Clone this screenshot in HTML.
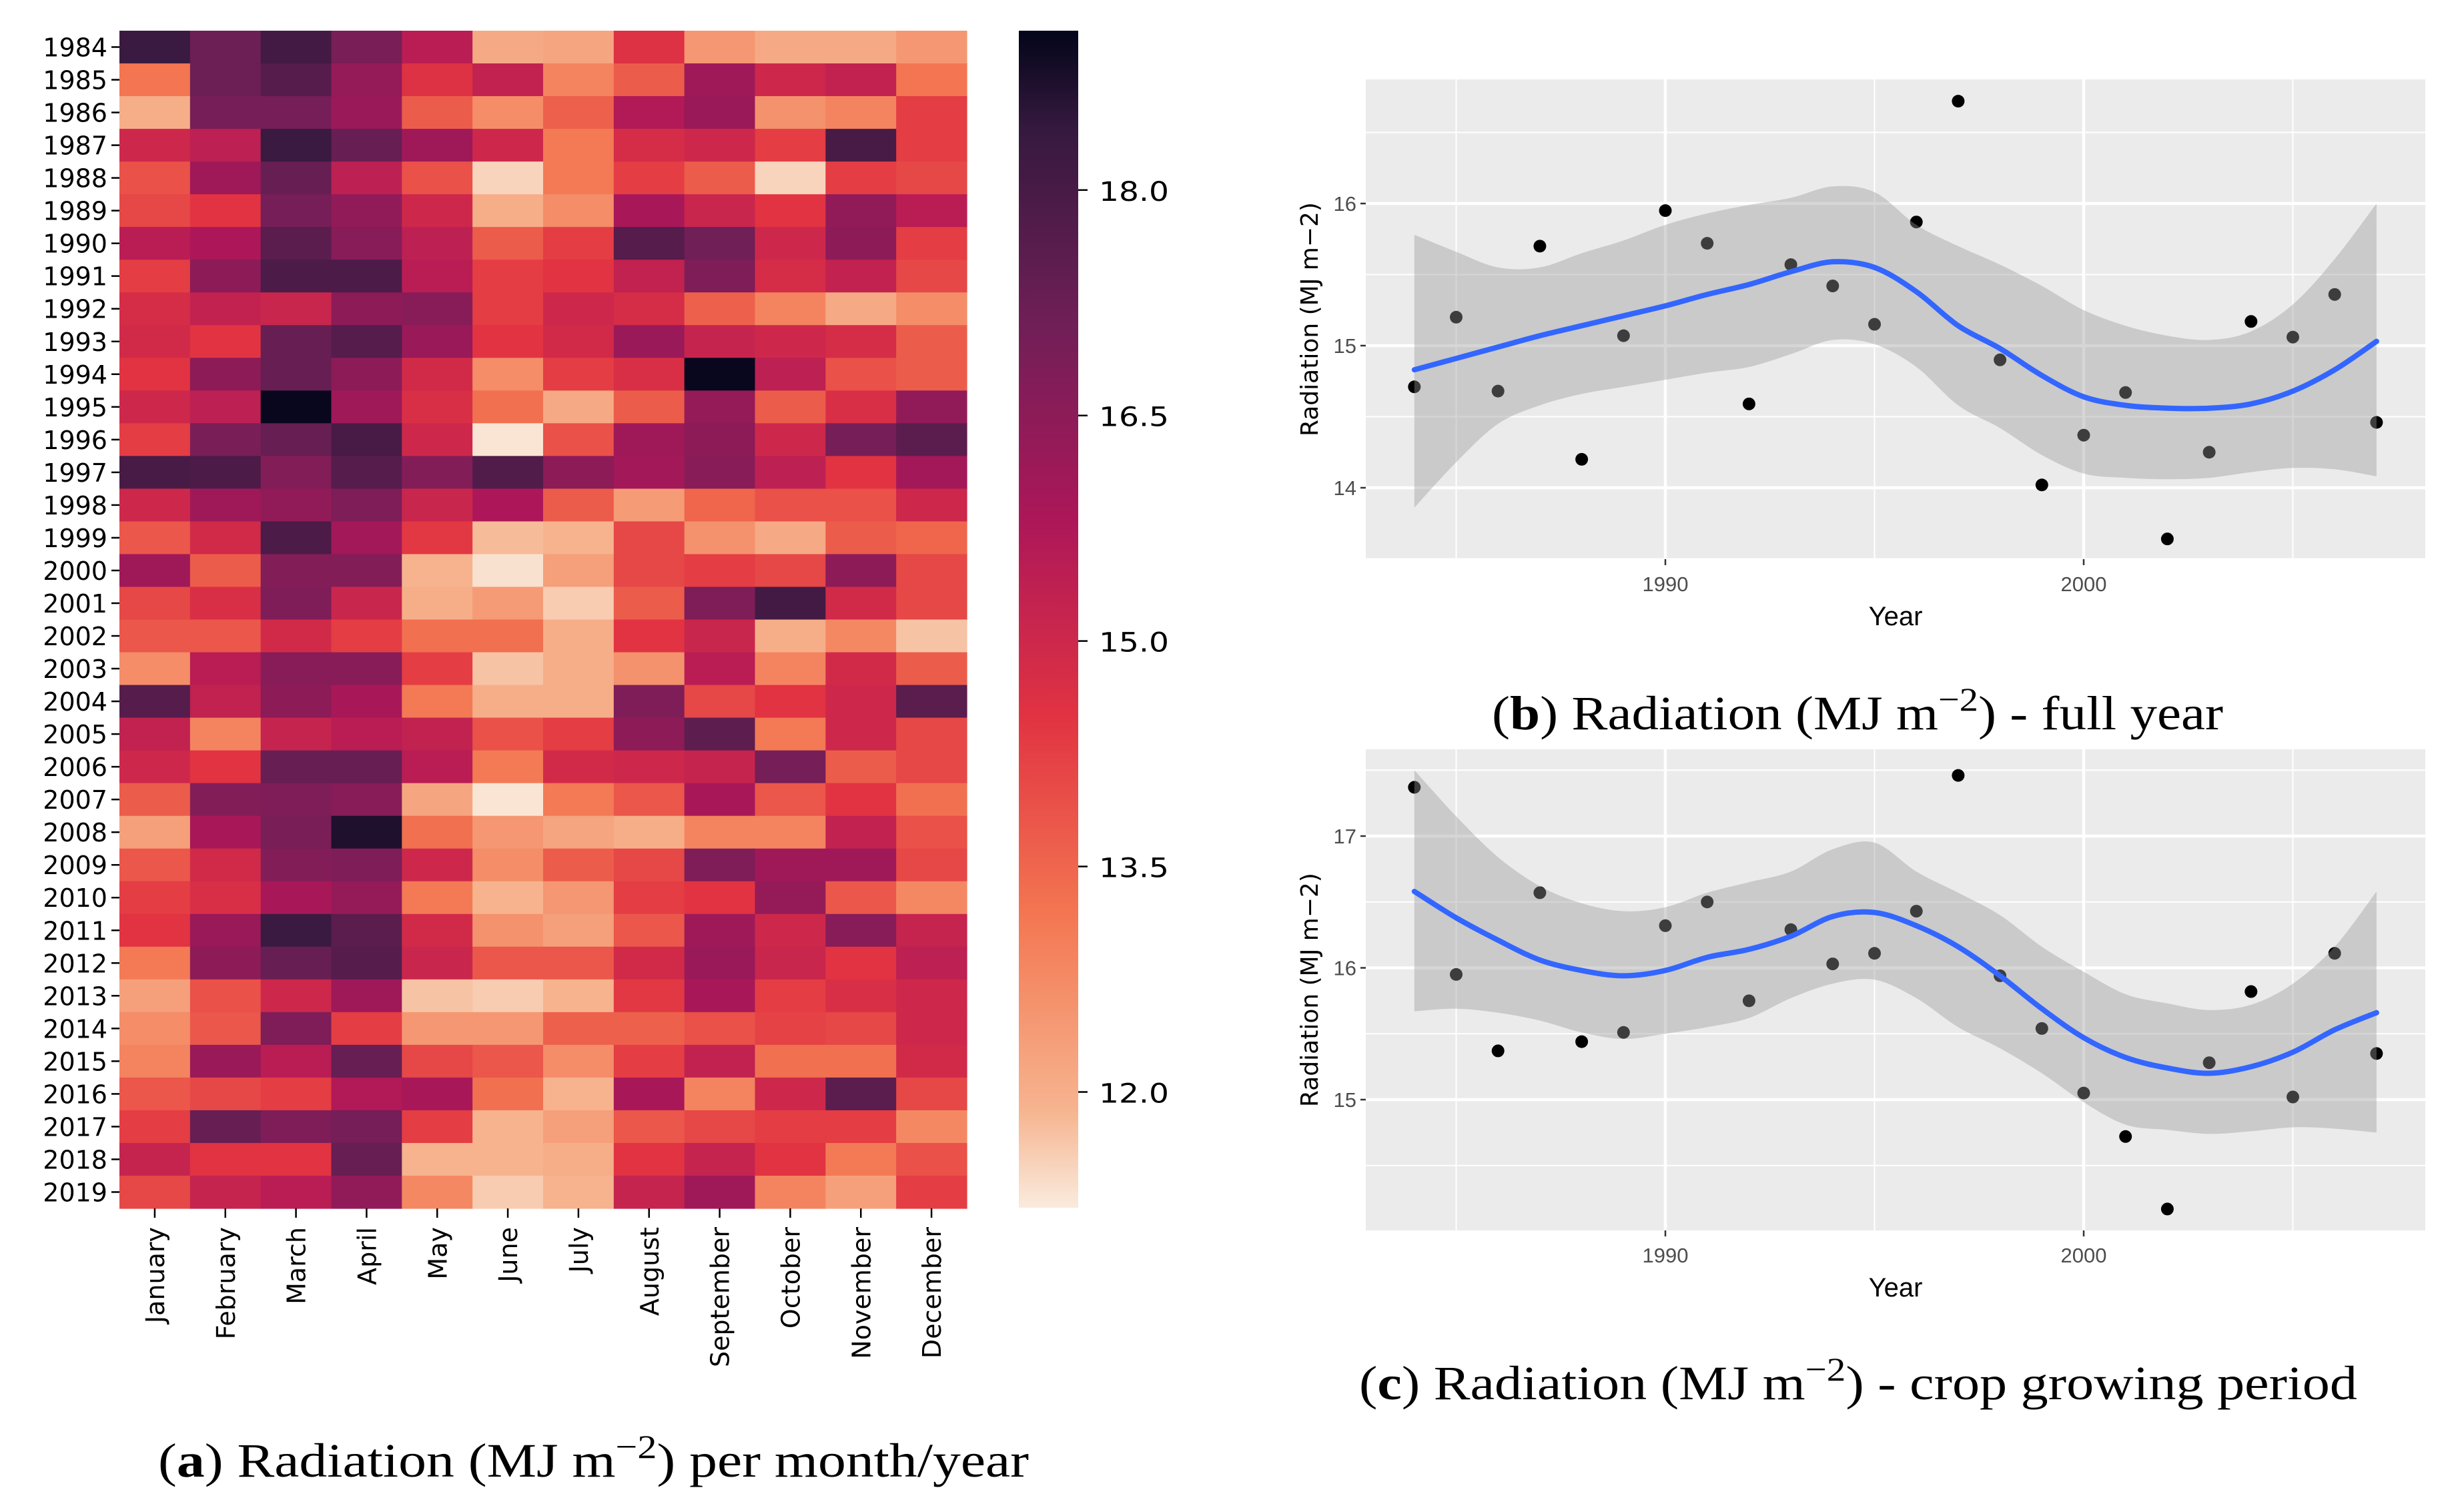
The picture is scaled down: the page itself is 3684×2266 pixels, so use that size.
<!DOCTYPE html>
<html><head><meta charset="utf-8"><style>
html,body{margin:0;padding:0;background:#fff;}
svg{display:block;}
</style></head><body>
<svg id="fig" xmlns="http://www.w3.org/2000/svg" width="3684" height="2266" viewBox="0 0 3684 2266">
<defs>
<linearGradient id="cbgrad" x1="0" y1="0" x2="0" y2="1">
<stop offset="0" stop-color="#03051a"/><stop offset="0.083" stop-color="#35193e"/><stop offset="0.25" stop-color="#701f57"/><stop offset="0.417" stop-color="#ad1759"/><stop offset="0.583" stop-color="#e13342"/><stop offset="0.75" stop-color="#f37651"/><stop offset="0.917" stop-color="#f6b48f"/><stop offset="1" stop-color="#faebdd"/>
</linearGradient>
</defs>
<g id="heat"></g>
<g id="pb"></g>
<g id="pc"></g>
<text x="237" y="2213" font-family="Liberation Serif, serif" font-size="72" textLength="1305" lengthAdjust="spacingAndGlyphs">(<tspan font-weight="bold">a</tspan>) Radiation (MJ m<tspan dy="-28" font-size="50">−2</tspan><tspan dy="28">) per month/year</tspan></text>
<text x="2236" y="1093" font-family="Liberation Serif, serif" font-size="72" textLength="1096" lengthAdjust="spacingAndGlyphs">(<tspan font-weight="bold">b</tspan>) Radiation (MJ m<tspan dy="-28" font-size="50">−2</tspan><tspan dy="28">) - full year</tspan></text>
<text x="2037" y="2097" font-family="Liberation Serif, serif" font-size="72" textLength="1496" lengthAdjust="spacingAndGlyphs">(<tspan font-weight="bold">c</tspan>) Radiation (MJ m<tspan dy="-28" font-size="50">−2</tspan><tspan dy="28">) - crop growing period</tspan></text>
</svg>
<script>
// ---------- heatmap data ----------
const hmYears = [1984,1985,1986,1987,1988,1989,1990,1991,1992,1993,1994,1995,1996,1997,1998,1999,2000,2001,2002,2003,2004,2005,2006,2007,2008,2009,2010,2011,2012,2013,2014,2015,2016,2017,2018,2019];
const hmMonths = ["January","February","March","April","May","June","July","August","September","October","November","December"];
const hmValues = [
[18.3,17.2,18.1,16.9,15.5,12.1,12.2,14.6,12.5,12.1,12.1,12.5],
[13.2,17.2,17.7,16.3,14.6,15.3,12.9,13.7,16.1,15.0,15.3,13.2],
[12.0,17.0,17.0,16.2,13.7,12.7,13.6,15.7,16.2,12.6,12.9,14.3],
[15.0,15.4,18.3,17.3,16.1,15.0,13.1,14.8,15.0,14.3,18.0,14.3],
[13.9,16.1,17.3,15.4,13.9,11.5,13.1,14.3,13.7,11.5,14.3,14.1],
[14.1,14.5,17.0,16.4,15.0,12.0,12.7,15.9,15.1,14.5,16.4,15.5],
[15.5,15.8,17.6,16.6,15.4,13.7,14.3,17.7,17.1,15.0,16.5,14.3],
[14.3,16.5,17.9,17.9,15.5,14.3,14.5,15.3,16.8,14.8,15.3,14.1],
[14.8,15.3,15.1,16.5,16.6,14.3,15.0,14.8,13.6,12.9,12.1,12.7],
[14.9,14.5,17.3,17.7,16.2,14.5,14.9,16.2,15.2,15.0,14.8,13.7],
[14.5,16.5,17.3,16.5,14.9,12.7,14.3,14.7,19.0,15.4,13.9,13.7],
[15.0,15.4,19.0,16.1,14.7,13.3,12.1,13.7,16.3,13.7,14.7,16.4],
[14.3,16.9,17.3,18.0,15.0,11.3,13.9,16.1,16.5,15.0,17.0,17.6],
[18.0,17.9,16.7,17.7,16.7,17.8,16.5,16.0,16.6,15.4,14.5,16.0],
[15.0,16.1,16.4,16.8,15.1,15.8,13.7,12.4,13.5,13.9,13.9,15.0],
[13.8,14.9,17.9,16.0,14.4,11.8,11.9,14.1,12.6,12.1,13.7,13.5],
[16.1,13.7,16.7,16.7,11.9,11.35,12.3,14.1,14.3,14.1,16.5,14.1],
[14.1,14.7,16.8,15.1,12.0,12.4,11.6,13.7,16.8,18.1,14.9,14.1],
[13.8,13.8,14.9,14.3,13.3,13.3,12.0,14.5,15.1,12.0,12.8,11.7],
[12.7,15.5,16.6,16.6,14.3,11.7,12.0,12.6,15.5,12.9,14.9,13.7],
[17.7,15.3,16.5,15.9,13.1,12.0,12.0,16.8,14.1,14.5,15.0,17.6],
[15.3,12.9,15.2,15.5,15.3,13.9,14.3,16.5,17.5,13.1,15.0,14.1],
[15.0,14.5,17.3,17.3,15.5,13.1,14.9,15.0,15.2,17.0,13.7,14.1],
[13.7,16.7,16.8,16.6,12.2,11.3,13.1,13.8,15.9,13.8,14.5,13.3],
[12.3,15.9,16.9,18.7,13.3,12.5,12.2,12.0,12.9,12.9,15.3,13.9],
[13.8,14.9,16.7,16.8,15.0,12.7,13.7,14.1,16.8,16.1,16.1,14.1],
[14.3,14.7,15.9,16.3,13.1,11.9,12.5,14.3,14.5,16.3,13.8,12.8],
[14.5,16.2,18.3,17.6,14.9,12.6,12.3,13.8,16.1,15.0,16.6,15.2],
[13.1,16.5,17.3,17.7,15.1,13.8,13.8,14.9,16.2,15.1,14.5,15.4],
[12.3,13.9,15.0,16.1,11.7,11.6,11.9,14.4,15.9,14.3,14.7,15.0],
[12.7,13.8,16.8,14.3,12.5,12.5,13.6,13.6,13.9,14.2,14.1,15.0],
[12.9,16.2,15.5,17.3,14.1,13.8,12.7,14.3,15.3,13.3,13.3,14.9],
[13.8,14.1,14.3,15.7,15.9,13.3,11.9,15.9,12.9,15.0,17.6,14.1],
[14.3,17.3,16.8,17.0,14.3,11.9,12.3,13.8,14.1,14.3,14.3,12.8],
[15.2,14.5,14.5,17.3,11.9,11.9,12.0,14.5,15.2,14.5,13.1,13.9],
[14.1,15.2,15.5,16.4,12.8,11.6,11.9,15.2,16.1,12.9,12.3,14.3]
];
const cbTicks = [18.0,16.5,15.0,13.5,12.0];

// ---------- scatter data ----------
const ptYears = [1984,1985,1986,1987,1988,1989,1990,1991,1992,1993,1994,1995,1996,1997,1998,1999,2000,2001,2002,2003,2004,2005,2006,2007];
const fullYearValues = [14.71,15.20,14.68,15.70,14.20,15.07,15.95,15.72,14.59,15.57,15.42,15.15,15.87,16.72,14.90,14.02,14.37,14.67,13.64,14.25,15.17,15.06,15.36,14.46];
const fullYearSmooth = [14.83,14.91,14.99,15.07,15.14,15.21,15.28,15.36,15.43,15.52,15.59,15.55,15.38,15.14,14.98,14.79,14.64,14.58,14.56,14.56,14.59,14.68,14.83,15.03];
const fullYearUpper = [15.78,15.66,15.55,15.55,15.65,15.74,15.85,15.93,15.99,16.04,16.12,16.08,15.85,15.70,15.57,15.42,15.25,15.14,15.07,15.04,15.10,15.29,15.61,16.00];
const fullYearLower = [13.86,14.18,14.45,14.58,14.66,14.71,14.76,14.81,14.85,14.94,15.04,15.01,14.85,14.58,14.42,14.23,14.10,14.07,14.06,14.07,14.11,14.14,14.13,14.08];
const fullYearTicks = [14,15,16];
const cropValues = [17.37,15.95,15.37,16.57,15.44,15.51,16.32,16.50,15.75,16.29,16.03,16.11,16.43,17.46,15.94,15.54,15.05,14.72,14.17,15.28,15.82,15.02,16.11,15.35];
const cropSmooth = [16.58,16.38,16.21,16.06,15.98,15.94,15.98,16.08,16.14,16.24,16.39,16.42,16.32,16.16,15.94,15.69,15.47,15.32,15.24,15.20,15.25,15.36,15.53,15.66];
const cropUpper = [17.50,17.15,16.84,16.62,16.49,16.43,16.46,16.57,16.65,16.73,16.90,16.95,16.73,16.57,16.40,16.16,15.97,15.80,15.73,15.68,15.72,15.88,16.16,16.58];
const cropLower = [15.67,15.69,15.66,15.60,15.51,15.46,15.50,15.55,15.62,15.77,15.88,15.91,15.77,15.55,15.39,15.20,14.98,14.81,14.77,14.74,14.76,14.79,14.78,14.75];
const cropTicks = [15,16,17];
const xTicks = [1990,2000];

const NS = "http://www.w3.org/2000/svg";
function mk(parent, tag, attrs){ const e=document.createElementNS(NS,tag); for(const k in attrs) e.setAttribute(k,attrs[k]); parent.appendChild(e); return e; }

const rk = [[0,[3,5,26]],[0.083,[53,25,62]],[0.25,[112,31,87]],[0.417,[173,23,89]],[0.583,[225,51,66]],[0.75,[243,118,81]],[0.917,[246,180,143]],[1,[250,235,221]]];
function rocket(t){ t=Math.max(0,Math.min(1,t)); for(let i=1;i<rk.length;i++){ if(t<=rk[i][0]){ const a=rk[i-1],b=rk[i]; const f=(t-a[0])/(b[0]-a[0]); const c=a[1].map((v,j)=>Math.round(v+(b[1][j]-v)*f)); return `rgb(${c[0]},${c[1]},${c[2]})`; } } return "rgb(250,235,221)"; }

// catmull-rom smooth path through points
function smoothPath(pts, start){
  let d = start ? 'M'+pts[0][0].toFixed(1)+','+pts[0][1].toFixed(1) : 'L'+pts[0][0].toFixed(1)+','+pts[0][1].toFixed(1);
  for(let i=0;i<pts.length-1;i++){
    const p0=pts[Math.max(0,i-1)], p1=pts[i], p2=pts[i+1], p3=pts[Math.min(pts.length-1,i+2)];
    const c1=[p1[0]+(p2[0]-p0[0])/6, p1[1]+(p2[1]-p0[1])/6];
    const c2=[p2[0]-(p3[0]-p1[0])/6, p2[1]-(p3[1]-p1[1])/6];
    d+='C'+c1[0].toFixed(1)+','+c1[1].toFixed(1)+' '+c2[0].toFixed(1)+','+c2[1].toFixed(1)+' '+p2[0].toFixed(1)+','+p2[1].toFixed(1);
  }
  return d;
}

// ---------- heatmap ----------
const heat = document.getElementById('heat');
const HX0=179, HX1=1449, HY0=46, HY1=1811;
const VMAX=19.06, VMIN=11.23;
const cw=(HX1-HX0)/hmMonths.length, ch=(HY1-HY0)/hmYears.length;
const colorOf = v => rocket((VMAX-v)/(VMAX-VMIN));
hmValues.forEach((row,r)=>{
  row.forEach((v,c)=>{
    const el = mk(heat,'rect',{x:HX0+c*cw,y:HY0+r*ch,width:cw+0.6,height:ch+0.6,fill:colorOf(v)});
    
    
  });
});
hmYears.forEach((y,r)=>{
  const cy=HY0+(r+0.5)*ch;
  const tk=mk(heat,'line',{x1:HX0-12,x2:HX0,y1:cy,y2:cy,stroke:'#000','stroke-width':2.5});
  
  
  const t=mk(heat,'text',{x:HX0-18,y:cy+14,'text-anchor':'end','font-family':'DejaVu Sans, sans-serif','font-size':38});
  t.textContent=y;
  
  
});
hmMonths.forEach((m,c)=>{
  const cx=HX0+(c+0.5)*cw;
  const tk=mk(heat,'line',{x1:cx,x2:cx,y1:HY1,y2:HY1+14,stroke:'#000','stroke-width':2.5});
  
  
  const t=mk(heat,'text',{x:cx+14,y:1839,'text-anchor':'end','font-family':'DejaVu Sans, sans-serif','font-size':38,transform:`rotate(-90 ${cx+14} 1839)`});
  t.textContent=m;
  
  
});
const CBX0=1527, CBX1=1616, CBY0=46, CBY1=1810;
const cb=mk(heat,'rect',{x:CBX0,y:CBY0,width:CBX1-CBX0,height:CBY1-CBY0,fill:'url(#cbgrad)'});


const cbY = v => CBY0+(VMAX-v)/(VMAX-VMIN)*(CBY1-CBY0);
cbTicks.forEach(v=>{
  const y=cbY(v);
  const tk=mk(heat,'line',{x1:CBX1,x2:CBX1+14,y1:y,y2:y,stroke:'#000','stroke-width':2.5});
  
  
  const t=mk(heat,'text',{x:1647,y:y+16,'font-family':'DejaVu Sans, sans-serif','font-size':40,textLength:105,lengthAdjust:'spacingAndGlyphs'});
  t.textContent=v.toFixed(1);
  
  
});

// ---------- scatter panels ----------
function panel(g, top, bottom, yRef, yTicks, vals, sm, up, lo, minorYs){
  const PX0=2047, PX1=3635;
  const xS = yr => 2496 + (yr-1990)*62.7;
  const yS = v => yRef.py + (yRef.v - v)*yRef.k;
  const bg=mk(g,'rect',{x:PX0,y:top,width:PX1-PX0,height:bottom-top,fill:'#EBEBEB'});
  
  
  minorYs.forEach(v=>{ const l=mk(g,'line',{x1:PX0,x2:PX1,y1:yS(v),y2:yS(v),stroke:'#fff','stroke-width':2});   });
  [1985,1995,2005].forEach(yr=>{ const l=mk(g,'line',{x1:xS(yr),x2:xS(yr),y1:top,y2:bottom,stroke:'#fff','stroke-width':2});   });
  yTicks.forEach(v=>{
    const y=yS(v);
    const l=mk(g,'line',{x1:PX0,x2:PX1,y1:y,y2:y,stroke:'#fff','stroke-width':4.5});
    
    
    const tk=mk(g,'line',{x1:PX0-8,x2:PX0,y1:y,y2:y,stroke:'#333','stroke-width':2.5});
    
    
    const t=mk(g,'text',{x:PX0-14,y:y+11,'text-anchor':'end','font-family':'Liberation Sans, sans-serif','font-size':31,fill:'#4D4D4D'});
    t.textContent=v;
    
    
  });
  xTicks.forEach(yr=>{
    const x=xS(yr);
    const l=mk(g,'line',{x1:x,x2:x,y1:top,y2:bottom,stroke:'#fff','stroke-width':4.5});
    
    
    const tk=mk(g,'line',{x1:x,x2:x,y1:bottom,y2:bottom+9,stroke:'#333','stroke-width':2.5});
    
    
    const t=mk(g,'text',{x:x,y:bottom+48,'text-anchor':'middle','font-family':'Liberation Sans, sans-serif','font-size':31,fill:'#4D4D4D'});
    t.textContent=yr;
    
    
  });
  vals.forEach((v,i)=>{
    const p=mk(g,'circle',{cx:xS(ptYears[i]),cy:yS(v),r:9.5,fill:'#000'});
    
    
  });
  const upPts = up.map((v,i)=>[xS(ptYears[i]),yS(v)]);
  const loPts = lo.map((v,i)=>[xS(ptYears[i]),yS(v)]).reverse();
  const band=mk(g,'path',{d:smoothPath(upPts,true)+smoothPath(loPts,false)+'Z',fill:'#999999','fill-opacity':0.4});
  
  
  const smPts = sm.map((v,i)=>[xS(ptYears[i]),yS(v)]);
  const line=mk(g,'path',{d:smoothPath(smPts,true),fill:'none',stroke:'#3366FF','stroke-width':8,'stroke-linejoin':'round','stroke-linecap':'round'});
  
  
  const yl=mk(g,'text',{x:1975,y:(top+bottom)/2,'text-anchor':'middle','font-family':'DejaVu Sans, sans-serif','font-size':36,transform:`rotate(-90 1975 ${(top+bottom)/2})`});
  yl.textContent='Radiation (MJ m−2)';
  
  
  const xl=mk(g,'text',{x:(PX0+PX1)/2,y:bottom+99,'text-anchor':'middle','font-family':'Liberation Sans, sans-serif','font-size':40});
  xl.textContent='Year';
  
  
}
panel(document.getElementById('pb'),119,838,{py:305,v:16,k:213},fullYearTicks,fullYearValues,fullYearSmooth,fullYearUpper,fullYearLower,[13.5,14.5,15.5,16.5]);
panel(document.getElementById('pc'),1123,1844,{py:1253,v:17,k:197.5},cropTicks,cropValues,cropSmooth,cropUpper,cropLower,[14.5,15.5,16.5,17.5]);
</script>
</body></html>
